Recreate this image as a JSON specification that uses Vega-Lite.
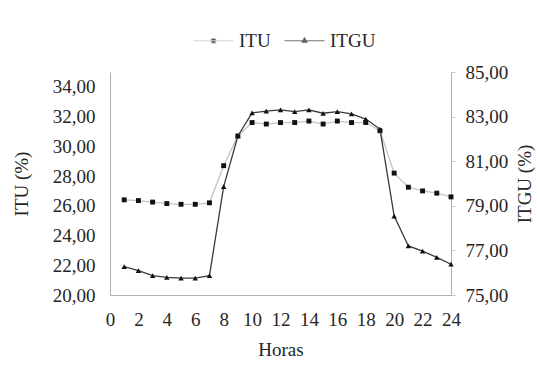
{
  "$schema": "https://vega.github.io/schema/vega-lite/v6.json",
  "width": 341,
  "height": 223,
  "autosize": "none",
  "padding": {"left": 110, "top": 72, "right": 86, "bottom": 77},
  "background": "white",
  "config": {
    "view": {"stroke": null},
    "font": "Liberation Serif",
    "axis": {"labelFont": "Liberation Serif", "titleFont": "Liberation Serif", "labelFontSize": 19, "titleFontSize": 19, "titleFontWeight": "normal", "labelColor": "#262626", "titleColor": "#262626", "domainColor": "#b0b0b0", "tickColor": "#c8c8c8", "grid": false}
  },
  "data": {"values": [
    {"h":1,"s":"ITU","v":26.4},{"h":2,"s":"ITU","v":26.35},{"h":3,"s":"ITU","v":26.25},{"h":4,"s":"ITU","v":26.15},
    {"h":5,"s":"ITU","v":26.1},{"h":6,"s":"ITU","v":26.1},{"h":7,"s":"ITU","v":26.2},{"h":8,"s":"ITU","v":28.7},
    {"h":9,"s":"ITU","v":30.7},{"h":10,"s":"ITU","v":31.6},{"h":11,"s":"ITU","v":31.5},{"h":12,"s":"ITU","v":31.6},
    {"h":13,"s":"ITU","v":31.6},{"h":14,"s":"ITU","v":31.7},{"h":15,"s":"ITU","v":31.5},{"h":16,"s":"ITU","v":31.7},
    {"h":17,"s":"ITU","v":31.6},{"h":18,"s":"ITU","v":31.6},{"h":19,"s":"ITU","v":31.05},{"h":20,"s":"ITU","v":28.2},
    {"h":21,"s":"ITU","v":27.25},{"h":22,"s":"ITU","v":27.0},{"h":23,"s":"ITU","v":26.85},{"h":24,"s":"ITU","v":26.6},
    {"h":1,"s":"ITGU","v":76.27},{"h":2,"s":"ITGU","v":76.09},{"h":3,"s":"ITGU","v":75.87},{"h":4,"s":"ITGU","v":75.79},
    {"h":5,"s":"ITGU","v":75.76},{"h":6,"s":"ITGU","v":75.76},{"h":7,"s":"ITGU","v":75.87},{"h":8,"s":"ITGU","v":79.86},
    {"h":9,"s":"ITGU","v":82.13},{"h":10,"s":"ITGU","v":83.17},{"h":11,"s":"ITGU","v":83.25},{"h":12,"s":"ITGU","v":83.3},
    {"h":13,"s":"ITGU","v":83.22},{"h":14,"s":"ITGU","v":83.3},{"h":15,"s":"ITGU","v":83.15},{"h":16,"s":"ITGU","v":83.22},
    {"h":17,"s":"ITGU","v":83.12},{"h":18,"s":"ITGU","v":82.89},{"h":19,"s":"ITGU","v":82.44},{"h":20,"s":"ITGU","v":78.54},
    {"h":21,"s":"ITGU","v":77.2},{"h":22,"s":"ITGU","v":76.97},{"h":23,"s":"ITGU","v":76.69},{"h":24,"s":"ITGU","v":76.38}
  ]},
  "encoding": {
    "x": {"field": "h", "type": "quantitative", "scale": {"domain": [0, 24], "nice": false},
      "axis": {"title": "Horas", "values": [0,2,4,6,8,10,12,14,16,18,20,22,24], "ticks": false, "labelPadding": 15, "titlePadding": 11, "labelFlush": false}}
  },
  "layer": [
    {
      "transform": [{"filter": "datum.s === 'ITU'"}],
      "encoding": {
        "y": {"field": "v", "type": "quantitative", "scale": {"domain": [20, 35], "nice": false, "zero": false},
          "axis": {"title": "ITU (%)", "orient": "left", "values": [20,22,24,26,28,30,32,34], "ticks": false, "labelPadding": 15, "titlePadding": 21,
            "labelExpr": "replace(format(datum.value, '.2f'), '.', ',')"}}
      },
      "layer": [
        {"mark": {"type": "line", "stroke": "#c4c4c4", "strokeWidth": 1.3}},
        {"mark": {"type": "point", "shape": "square", "filled": true, "fill": "#111111", "size": 24, "opacity": 1}}
      ]
    },
    {
      "transform": [{"filter": "datum.s === 'ITGU'"}],
      "encoding": {
        "y": {"field": "v", "type": "quantitative", "scale": {"domain": [75, 85], "nice": false, "zero": false},
          "axis": {"title": "ITGU (%)", "orient": "right", "values": [75,77,79,81,83,85], "tickSize": 4, "labelPadding": 10, "titlePadding": 8, "titleAngle": 270, "titleBaseline": "top",
            "labelExpr": "replace(format(datum.value, '.2f'), '.', ',')"}}
      },
      "layer": [
        {"mark": {"type": "line", "stroke": "#3a3a3a", "strokeWidth": 1.3}},
        {"mark": {"type": "point", "shape": "triangle-up", "filled": true, "fill": "#111111", "size": 30, "opacity": 1}}
      ]
    },
    {
      "transform": [{"filter": "false"}],
      "mark": {"type": "point", "filled": true, "fill": "black"},
      "encoding": {
        "shape": {"field": "s", "type": "nominal",
          "scale": {"domain": ["ITU", "ITGU"], "range": ["M-1,0H1M-0.12,-0.12H0.12V0.12H-0.12Z", "M-1,0H1M0,-0.16L0.14,0.08H-0.14Z"]},
          "legend": {"title": null, "orient": "none", "direction": "horizontal", "legendX": 83, "legendY": -52, "symbolSize": 1600, "symbolStrokeWidth": 1, "symbolFillColor": "black", "labelFont": "Liberation Serif", "labelFontSize": 19, "labelColor": "#262626", "labelOffset": 5, "columnPadding": 11}},
        "stroke": {"field": "s", "type": "nominal",
          "scale": {"domain": ["ITU", "ITGU"], "range": ["#c4c4c4", "#3a3a3a"]},
          "legend": {"title": null, "orient": "none", "direction": "horizontal", "legendX": 83, "legendY": -52, "symbolSize": 1600, "symbolStrokeWidth": 1, "symbolFillColor": "black", "labelFont": "Liberation Serif", "labelFontSize": 19, "labelColor": "#262626", "labelOffset": 5, "columnPadding": 11}}
      }
    }
  ],
  "resolve": {"scale": {"y": "independent"}}
}
